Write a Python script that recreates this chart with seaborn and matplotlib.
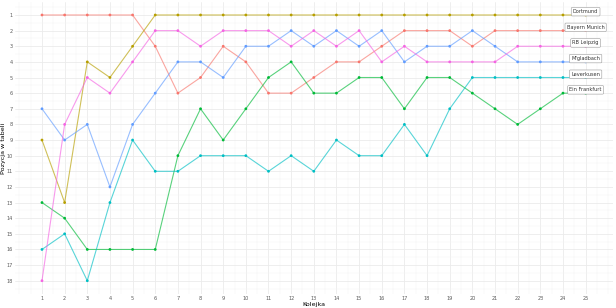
import matplotlib
matplotlib.use("Agg")
import matplotlib.pyplot as plt
from matplotlib.ticker import MultipleLocator
import seaborn as sns
import pandas as pd

matchdays = list(range(1, 26))
bayern = [1, 1, 1, 1, 1, 3, 6, 5, 3, 4, 6, 6, 5, 4, 4, 3, 2, 2, 2, 3, 2, 2, 2, 2, 2]
dortmund = [9, 13, 4, 5, 3, 1, 1, 1, 1, 1, 1, 1, 1, 1, 1, 1, 1, 1, 1, 1, 1, 1, 1, 1, 1]
frankfurt = [13, 14, 16, 16, 16, 16, 10, 7, 9, 7, 5, 4, 6, 6, 5, 5, 7, 5, 5, 6, 7, 8, 7, 6, 6]
leverkusen = [16, 15, 18, 13, 9, 11, 11, 10, 10, 10, 11, 10, 11, 9, 10, 10, 8, 10, 7, 5, 5, 5, 5, 5, 5]
gladbach = [7, 9, 8, 12, 8, 6, 4, 4, 5, 3, 3, 2, 3, 2, 3, 2, 4, 3, 3, 2, 3, 4, 4, 4, 4]
leipzig = [18, 8, 5, 6, 4, 2, 2, 3, 2, 2, 2, 3, 2, 3, 2, 4, 3, 4, 4, 4, 4, 3, 3, 3, 3]

teams = ["Bayern Munich", "Dortmund", "Ein Frankfurt", "Leverkusen", "M'gladbach", "RB Leipzig"]
series = [bayern, dortmund, frankfurt, leverkusen, gladbach, leipzig]
colors = ["#F8766D", "#B79F00", "#00BA38", "#00BFC4", "#619CFF", "#F564E3"]
y_ticks = list(range(1, 19))

rows = []
for t, vals in zip(teams, series):
    for md, v in zip(matchdays, vals):
        rows.append({"Kolejka": md, "Pozycja": v, "Team": t})
df = pd.DataFrame(rows)
palette = dict(zip(teams, colors))

sns.set_style("white")
plt.rcParams["font.family"] = ["DejaVu Sans"]

fig = plt.figure(figsize=(6.16, 3.08), dpi=100)
ax = fig.add_axes([14.8 / 616, (308 - 294) / 308, 598 / 616, 292.3 / 308])

sns.lineplot(data=df, x="Kolejka", y="Pozycja", hue="Team", palette=palette,
             linewidth=0.8, alpha=0.65, legend=False, ax=ax, zorder=3)
sns.scatterplot(data=df, x="Kolejka", y="Pozycja", hue="Team", palette=palette,
                s=4, linewidth=0, legend=False, ax=ax, zorder=4)

last = df[df["Kolejka"] == max(matchdays)]
for _, r in last.iterrows():
    ax.text(r["Kolejka"], r["Pozycja"] - 0.05, r["Team"], ha="center", va="bottom",
            fontsize=3.6, color="#333333", zorder=5,
            bbox=dict(boxstyle="round,pad=0.35,rounding_size=0.2", fc="white",
                      ec="#9a9a9a", lw=0.4))

ax.set_xlim(-0.2, 26.2)
ax.set_ylim(18.85, 0.15)
ax.set_xticks(matchdays)
ax.set_yticks(y_ticks)
ax.xaxis.set_minor_locator(MultipleLocator(0.5))
ax.yaxis.set_minor_locator(MultipleLocator(0.5))
ax.grid(which="major", color="#EBEBEB", linewidth=0.6)
ax.grid(which="minor", color="#F3F3F3", linewidth=0.35)
ax.set_axisbelow(True)
for s in ax.spines.values():
    s.set_visible(False)
ax.tick_params(which="both", length=0, labelsize=3.6, labelcolor="#5A5A5A", pad=1.5)
ax.set_xlabel("Kolejka", fontsize=4.6, labelpad=1.0, color="black")
ax.set_ylabel("Pozycja w tabeli", fontsize=4.6, labelpad=0.4, color="black")

fig.savefig("out.png", dpi=100)
